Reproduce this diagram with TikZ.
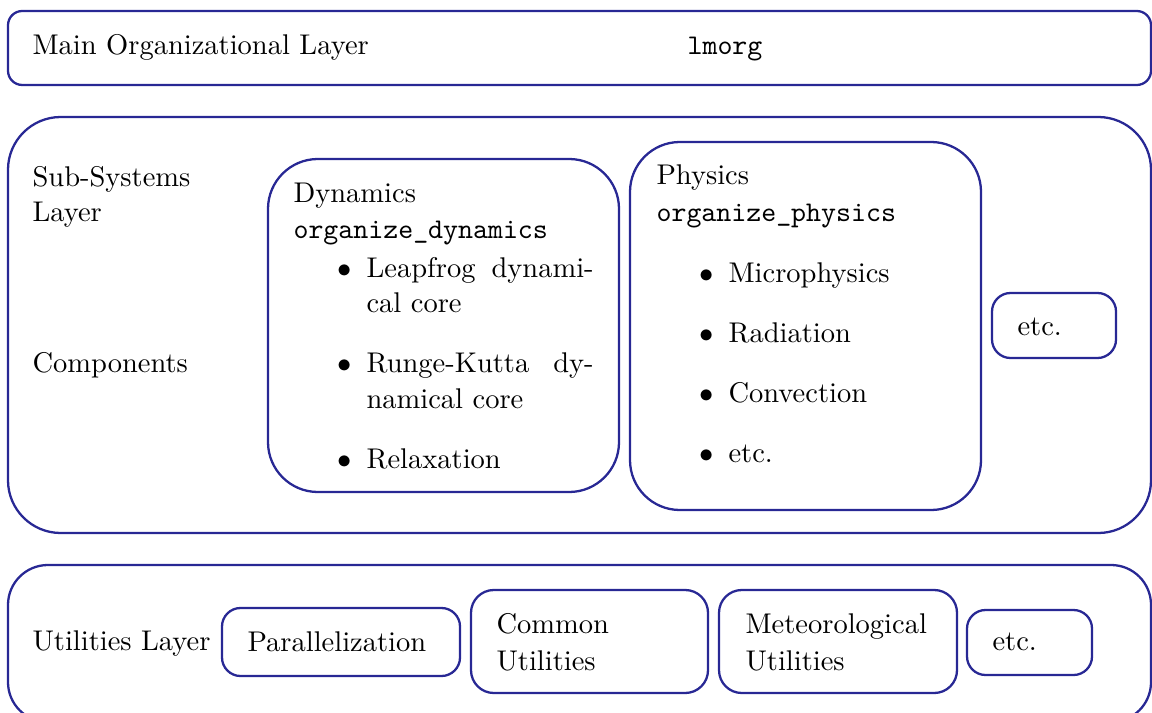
\documentclass[tikz,border=0pt]{standalone}
\definecolor{layerblue}{RGB}{40,40,148}
\tikzset{
  box/.style={draw=layerblue, line width=0.8pt},
  txt/.style={anchor=base west, inner sep=0pt},
  dot/.style={anchor=base east, inner sep=0pt}
}
% justified item line
\newcommand{\justline}[1]{\makebox[79.7pt][s]{#1}}

\begin{document}
\begin{tikzpicture}[x=0.3509pt, y=-0.3509pt]
    \useasboundingbox (0,0) rectangle (1152,712);
    \clip (0,0) rectangle (1152,712);

    % Main organizational layer
    \draw[box, rounded corners=5pt] (8,11) rectangle (1151,85);
    \node[txt] (mainlbl) at (32,55) {Main Organizational Layer};
    \node[txt] (lmorg) at (687,55) {\texttt{lmorg}};

    % Sub-systems layer
    \draw[box, rounded corners=18.5pt] (8,117) rectangle (1151,533);
    \node[txt] (sublbl) at (32,187) {Sub-Systems};
    \node[txt] (sublblb) at (32,221) {Layer};
    \node[txt] (complbl) at (32,372) {Components};

    % Dynamics
    \draw[box, rounded corners=17.5pt] (268,159) rectangle (619,492);
    \node[txt] (dyn) at (293,203) {Dynamics};
    \node[txt] (dynorg) at (293,238) {\texttt{organize\_dynamics}};
    \node[dot] (dynb1) at (352,277) {$\bullet$};
    \node[txt] (dyn1) at (366,277) {\justline{Leapfrog dynami-}};
    \node[txt] (dyn1b) at (366,312) {cal core};
    \node[dot] (dynb2) at (352,372) {$\bullet$};
    \node[txt] (dyn2) at (366,372) {\justline{Runge-Kutta dy-}};
    \node[txt] (dyn2b) at (366,408) {namical core};
    \node[dot] (dynb3) at (352,468) {$\bullet$};
    \node[txt] (dyn3) at (366,468) {Relaxation};

    % Physics
    \draw[box, rounded corners=17.5pt] (630,142) rectangle (981,510);
    \node[txt] (phys) at (656,185) {Physics};
    \node[txt] (physorg) at (656,222) {\texttt{organize\_physics}};
    \foreach \y/\t [count=\i] in {282/Microphysics, 342/Radiation, 402/Convection, 462/etc.} {
        \node[dot] (physb\i) at (714,\y) {$\bullet$};
        \node[txt] (phys\i) at (728,\y) {\t};
    }

    % other sub-systems
    \draw[box, rounded corners=6.5pt] (992,293) rectangle (1116,358);
    \node[txt] (subetc) at (1017,335) {etc.};

    % Utilities layer
    \draw[box, rounded corners=14pt] (8,565) rectangle (1151,722);
    \node[txt] (utillbl) at (32,650) {Utilities Layer};

    \draw[box, rounded corners=6.5pt] (222,608) rectangle (460,676);
    \node[txt] (para) at (247,651) {Parallelization};

    \draw[box, rounded corners=8pt] (471,590) rectangle (708,693);
    \node[txt] (common) at (496,633) {Common};
    \node[txt] (commonb) at (496,670) {Utilities};

    \draw[box, rounded corners=8pt] (719,590) rectangle (957,693);
    \node[txt] (meteo) at (745,633) {Meteorological};
    \node[txt] (meteob) at (745,670) {Utilities};

    \draw[box, rounded corners=6.5pt] (967,610) rectangle (1092,675);
    \node[txt] (utiletc) at (992,650) {etc.};
\end{tikzpicture}
\end{document}
